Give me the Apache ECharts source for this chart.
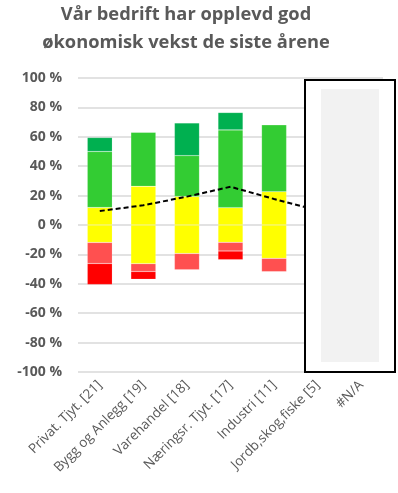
<!DOCTYPE html>
<html><head><meta charset="utf-8">
<script src="https://cdn.jsdelivr.net/npm/echarts@6/dist/echarts.min.js"></script>
<style>html,body{margin:0;padding:0;background:#fff}#c{width:398px;height:493px}</style>
</head><body><div id="c"></div>
<script>
const titleText = 'Vår bedrift har opplevd god\nøkonomisk vekst de siste årene';
const categories = ['Privat. Tjyt. [21]', 'Bygg og Anlegg [19]', 'Varehandel [18]', 'Næringsr. Tjyt. [17]', 'Industri [11]', 'Jordb,skog,fiske [5]', '#N/A'];
const neutralPos = [11.9, 26.3, 19.4, 11.8, 22.7, null, null];
const green = [38.1, 36.8, 27.8, 52.9, 45.5, null, null];
const darkGreen = [9.5, 0, 22.2, 11.8, 0, null, null];
const neutralNeg = [-11.9, -26.3, -19.4, -11.8, -22.7, null, null];
const lightRed = [-14.3, -5.3, -11.1, -5.9, -9.1, null, null];
const red = [-14.3, -5.3, 0, -5.9, 0, null, null];
const avgLine = [9.5, 13.4, 19.3, 26, 17.7, 10, null];
const yTicks = {min: -100, max: 100, interval: 20};

const chart = echarts.init(document.getElementById('c'));
const barBase = {type: 'bar', stack: 'a', barWidth: 25, itemStyle: {borderColor: 'rgba(255,255,255,0.3)', borderWidth: 0.5}};
chart.setOption({
  animation: false,
  grid: {left: 78, right: 15, top: 78, bottom: 121},
  xAxis: {type: 'category', data: categories,
    axisLine: {show: false}, axisTick: {show: false},
    axisLabel: {rotate: 45, interval: 0, fontFamily: 'Open Sans', fontSize: 13.5, color: '#595959', margin: 11}},
  yAxis: {type: 'value', min: yTicks.min, max: yTicks.max, interval: yTicks.interval,
    axisLabel: {formatter: '{value} %', fontFamily: 'Open Sans', fontSize: 14, fontWeight: 'bold', color: '#595959', margin: 16},
    splitLine: {lineStyle: {color: '#d9d9d9', width: 1.5}}},
  series: [
    Object.assign({}, barBase, {name: 'n+', data: neutralPos, itemStyle: Object.assign({}, barBase.itemStyle, {color: '#ffff00'})}),
    Object.assign({}, barBase, {name: 'g', data: green, itemStyle: Object.assign({}, barBase.itemStyle, {color: '#33cc33'})}),
    Object.assign({}, barBase, {name: 'dg', data: darkGreen, itemStyle: Object.assign({}, barBase.itemStyle, {color: '#00b050'})}),
    Object.assign({}, barBase, {name: 'n-', data: neutralNeg, itemStyle: Object.assign({}, barBase.itemStyle, {color: '#ffff00'})}),
    Object.assign({}, barBase, {name: 'lr', data: lightRed, itemStyle: Object.assign({}, barBase.itemStyle, {color: '#ff5050'})}),
    Object.assign({}, barBase, {name: 'r', data: red, itemStyle: Object.assign({}, barBase.itemStyle, {color: '#ff0000'})}),
    {type: 'line', name: 'avg', data: avgLine, symbol: 'none', z: 5,
      lineStyle: {color: '#000', width: 2, type: [5, 3]}}
  ],
  graphic: [
    {type: 'text', z: 100, x: 186, y: 1,
      style: {text: titleText, align: 'center', verticalAlign: 'top', lineHeight: 28,
        font: 'bold 18.3px "Open Sans"', fill: '#595959'}},
    {type: 'rect', z: 100, shape: {x: 305, y: 80, width: 90, height: 292},
      style: {fill: '#fff', stroke: '#000', lineWidth: 2}},
    {type: 'rect', z: 101, shape: {x: 321, y: 89, width: 58, height: 273},
      style: {fill: '#f2f2f2'}}
  ]
});
</script></body></html>
